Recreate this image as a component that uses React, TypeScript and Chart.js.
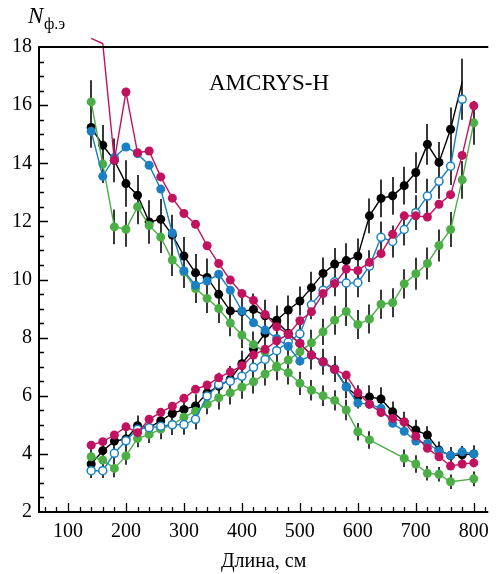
import React, { useEffect, useRef } from "react";
import { Chart, registerables } from "chart.js";

Chart.register(...registerables);

const FONT = '"Liberation Serif", "Times New Roman", serif';

const LENGTHS = [140, 160, 180, 200, 220, 240, 260, 280, 300, 320, 340, 360, 380, 400, 420, 440, 460, 480, 500, 520, 540, 560, 580, 600, 620, 640, 660, 680, 700, 720, 740, 760, 780, 800];
const X_TICKS = [100, 200, 300, 400, 500, 600, 700, 800];
const Y_TICKS = [2, 4, 6, 8, 10, 12, 14, 16, 18];

const BLACK_FALL = [15.23, 14.62, 14.1, 13.3, 12.9, 11.98, 12.07, 11.53, 10.81, 10.23, 10.07, 9.49, 8.92, 8.9, 8.97, 8.75, 8.55, 8.15, 7.8, 7.4, 7.17, 6.92, 6.31, 5.96, 5.96, 5.89, 5.45, 5.1, 4.82, 4.65, 4.13, 3.94, 3.97, 4.0];
const BLACK_FALL_ERR = [0.7, 0.7, 0.75, 0.8, 0.7, 0.75, 0.7, 0.7, 0.65, 0.65, 0.65, 0.6, 0.6, 0.6, 0.55, 0.55, 0.55, 0.5, 0.5, 0.5, 0.45, 0.45, 0.4, 0.4, 0.4, 0.4, 0.35, 0.35, 0.35, 0.3, 0.3, 0.3, 0.3, 0.3];
const BLACK_RISE = [3.65, 4.11, 4.44, 4.51, 4.97, 4.9, 5.14, 5.39, 5.53, 5.65, 6.1, 6.33, 6.57, 7.1, 7.6, 8.15, 8.6, 8.95, 9.26, 9.72, 10.21, 10.53, 10.65, 10.81, 12.19, 12.79, 12.88, 13.23, 13.68, 14.65, 14.03, 15.17, 16.8, null];
const BLACK_RISE_ERR = [0.3, 0.3, 0.3, 0.3, 0.35, 0.35, 0.35, 0.35, 0.4, 0.4, 0.4, 0.4, 0.45, 0.45, 0.45, 0.5, 0.5, 0.5, 0.5, 0.55, 0.55, 0.55, 0.6, 0.6, 0.6, 0.65, 0.65, 0.65, 0.7, 0.7, 0.7, 0.75, 0.8, null];

const BLUE_FALL = [15.1, 13.55, 14.2, 14.56, 14.33, 13.93, 13.11, 11.6, 10.3, 9.8, 9.95, 10.18, 9.63, 8.92, 8.51, 8.26, 7.97, 7.7, 7.19, 7.4, 7.15, 6.9, 6.3, 5.75, 5.71, 5.57, 5.05, 4.78, 4.44, 4.36, 4.1, 3.95, 4.07, 4.0];
const BLUE_RISE = [3.42, 3.42, 4.02, 4.45, 4.85, 4.9, 4.95, 5.0, 5.01, 5.19, 5.99, 6.39, 6.5, 6.67, 6.98, 7.25, 7.55, 7.85, 8.13, 9.13, 9.63, 9.92, 9.88, 9.89, 10.46, 11.45, 11.31, 11.72, 12.3, 12.87, 13.38, 13.9, 16.2, null];
const BLUE_RISE_ERR = [0.25, 0.25, 0.3, 0.3, 0.3, 0.3, 0.3, 0.35, 0.35, 0.35, 0.35, 0.4, 0.4, 0.4, 0.4, 0.45, 0.45, 0.45, 0.45, 0.5, 0.5, 0.5, 0.5, 0.5, 0.55, 0.55, 0.55, 0.55, 0.6, 0.6, 0.6, 0.65, 0.7, null];

const MAGENTA_FALL = [18.3, 18.12, 14.1, 16.45, 14.36, 14.42, 13.53, 12.8, 12.27, 11.9, 11.16, 10.55, 9.98, 9.52, 9.28, 8.8, 8.37, 8.12, 7.8, 7.4, 7.17, 6.9, 6.71, 6.1, 5.71, 5.42, 5.22, 5.1, 4.61, 4.19, 3.9, 3.58, 3.65, 3.69];
const MAGENTA_RISE = [4.3, 4.42, 4.65, 4.93, 4.73, 5.19, 5.43, 5.64, 5.91, 6.22, 6.37, 6.62, 6.82, 7.03, 7.4, 7.6, 7.89, 8.12, 8.58, 8.89, 9.52, 9.86, 10.36, 10.31, 10.59, 10.89, 11.56, 12.19, 12.19, 12.15, 12.59, 12.92, 14.27, 15.98];

const GREEN_FALL = [16.11, 13.97, 11.81, 11.73, 12.5, 11.86, 11.46, 10.67, 10.26, 9.69, 9.35, 9.0, 8.5, 8.09, 7.76, 7.51, 7.02, 6.79, 6.43, 6.19, 6.0, 5.84, 5.51, 4.76, 4.48, null, null, 3.85, 3.65, 3.33, 3.3, 3.04, null, 3.14];
const GREEN_FALL_ERR = [0.75, 0.65, 0.6, 0.6, 0.6, 0.6, 0.55, 0.55, 0.55, 0.5, 0.5, 0.5, 0.45, 0.45, 0.45, 0.4, 0.4, 0.4, 0.4, 0.35, 0.35, 0.35, 0.35, 0.3, 0.3, null, null, 0.3, 0.3, 0.25, 0.25, 0.25, null, 0.25];
const GREEN_RISE = [3.9, 3.79, 3.5, 3.93, 4.53, 4.67, 4.85, 5.01, 5.26, 5.47, 5.71, 5.93, 6.1, 6.3, 6.48, 6.75, 6.98, 7.23, 7.51, 7.82, 8.2, 8.6, 8.9, 8.45, 8.64, 9.15, 9.2, 9.85, 10.2, 10.55, 11.17, 11.72, 13.43, 15.39];
const GREEN_RISE_ERR = [0.3, 0.3, 0.3, 0.3, 0.3, 0.3, 0.35, 0.35, 0.35, 0.35, 0.35, 0.4, 0.4, 0.4, 0.4, 0.4, 0.45, 0.45, 0.45, 0.45, 0.45, 0.5, 0.5, 0.5, 0.5, 0.5, 0.5, 0.5, 0.55, 0.55, 0.55, 0.6, 0.65, 0.75];

const BLACK = "#000000";
const BLUE = "#1b80c3";
const MAGENTA = "#c2125f";
const GREEN = "#4cae47";

function points(vals: (number | null)[]) {
  return LENGTHS.map((x, i) => ({ x, y: vals[i] }));
}

export default function App() {
  const ref = useRef<HTMLCanvasElement>(null);

  useEffect(() => {
    document.body.style.margin = "0";
    const canvas = ref.current;
    if (!canvas) return;

    const base = (label: string, vals: (number | null)[], color: string, order: number, errors?: (number | null)[]) => ({
      label,
      data: points(vals),
      borderColor: color,
      backgroundColor: color,
      pointBackgroundColor: color,
      pointBorderColor: color,
      borderWidth: 1.4,
      pointRadius: 4.5,
      pointBorderWidth: 0,
      spanGaps: true,
      tension: 0,
      order,
      errors,
    });

    const errorBars = {
      id: "errorBars",
      beforeDatasetsDraw(chart: any) {
        const c = chart.ctx;
        const ys = chart.scales.y;
        c.save();
        c.strokeStyle = "#383838";
        c.lineWidth = 2;
        chart.data.datasets.forEach((d: any, di: number) => {
          if (!d.errors) return;
          const meta = chart.getDatasetMeta(di);
          d.data.forEach((p: any, i: number) => {
            const e = d.errors[i];
            if (p.y == null || e == null) return;
            const el = meta.data[i];
            if (!el) return;
            c.beginPath();
            c.moveTo(Math.round(el.x), ys.getPixelForValue(p.y + e));
            c.lineTo(Math.round(el.x), ys.getPixelForValue(p.y - e));
            c.stroke();
          });
        });
        c.restore();
      },
    };

    const frame = {
      id: "frame",
      afterDraw(chart: any) {
        const c = chart.ctx;
        const { left, right, top, bottom } = chart.chartArea;
        const xs = chart.scales.x;
        const ys = chart.scales.y;
        c.save();
        c.strokeStyle = "#000";
        c.lineWidth = 2;
        c.beginPath();
        c.moveTo(left, top);
        c.lineTo(right, top);
        c.moveTo(left, top - 1);
        c.lineTo(left, bottom);
        c.lineTo(right, bottom);
        c.stroke();
        c.lineWidth = 1.3;
        c.beginPath();
        for (let v = 60; v <= 820; v += 20) {
          const x = Math.round(xs.getPixelForValue(v)) + 0.5;
          const len = v % 100 === 0 ? 9 : 5;
          c.moveTo(x, bottom);
          c.lineTo(x, bottom - len);
        }
        for (let v = 2.5; v < 18; v += 0.5) {
          const y = Math.round(ys.getPixelForValue(v)) + 0.5;
          const len = v % 2 === 0 ? 9 : 5;
          c.moveTo(left, y);
          c.lineTo(left + len, y);
        }
        c.stroke();

        c.fillStyle = "#000";
        c.textBaseline = "alphabetic";
        c.textAlign = "left";
        c.font = `italic 23px ${FONT}`;
        c.fillText("N", 28, 23);
        c.font = `16px ${FONT}`;
        c.fillText("ф.э", 44, 29);
        c.font = `23px ${FONT}`;
        c.fillText("AMCRYS-H", 209, 90);
        c.restore();
      },
    };

    const magentaFall: any = base("magenta-fall", MAGENTA_FALL, MAGENTA, 0);
    magentaFall.clip = false;
    magentaFall.pointRadius = (ctx: any) => (ctx.raw && ctx.raw.y > 18 ? 0 : 4.5);

    const blackRise: any = base("black-rise", BLACK_RISE, BLACK, 3, BLACK_RISE_ERR);
    blackRise.pointRadius = (ctx: any) => (ctx.raw && ctx.raw.y > 16.5 ? 0 : 4.5);

    const blueRise: any = base("blue-rise", BLUE_RISE, BLUE, 1, BLUE_RISE_ERR);
    blueRise.pointBackgroundColor = "#ffffff";
    blueRise.pointBorderWidth = 1.5;
    blueRise.pointRadius = 4;

    const chart = new Chart(canvas, {
      type: "line",
      data: {
        datasets: [
          magentaFall,
          base("magenta-rise", MAGENTA_RISE, MAGENTA, 0),
          base("blue-fall", BLUE_FALL, BLUE, 1),
          blueRise,
          base("green-fall", GREEN_FALL, GREEN, 2, GREEN_FALL_ERR),
          base("green-rise", GREEN_RISE, GREEN, 2, GREEN_RISE_ERR),
          base("black-fall", BLACK_FALL, BLACK, 3, BLACK_FALL_ERR),
          blackRise,
        ] as any,
      },
      options: {
        animation: false,
        responsive: false,
        devicePixelRatio: 1,
        layout: { padding: { top: 47, right: 7, left: 0, bottom: 0 } },
        plugins: { legend: { display: false }, tooltip: { enabled: false } },
        scales: {
          x: {
            type: "linear",
            min: 50,
            max: 825,
            grid: { display: false, drawTicks: false },
            border: { display: false },
            afterBuildTicks: (s: any) => {
              s.ticks = X_TICKS.map((v) => ({ value: v }));
            },
            afterFit: (s: any) => {
              s.height = 62;
            },
            ticks: { font: { family: FONT, size: 20 }, color: "#000", padding: 8, maxRotation: 0, autoSkip: false },
            title: { display: true, text: "Длина, см", font: { family: FONT, size: 20 }, color: "#000", padding: { top: 0, bottom: 0 } },
          },
          y: {
            type: "linear",
            min: 2,
            max: 18,
            grid: { display: false, drawTicks: false },
            border: { display: false },
            afterBuildTicks: (s: any) => {
              s.ticks = Y_TICKS.map((v) => ({ value: v }));
            },
            afterFit: (s: any) => {
              s.width = 39;
            },
            ticks: { font: { family: FONT, size: 20 }, color: "#000", padding: 7, autoSkip: false },
          },
        },
      } as any,
      plugins: [errorBars, frame],
    });

    return () => chart.destroy();
  }, []);

  return (
    <div style={{ position: "absolute", left: 0, top: 0, width: 497, height: 574, background: "#fff" }}>
      <canvas ref={ref} width={497} height={574} />
    </div>
  );
}
